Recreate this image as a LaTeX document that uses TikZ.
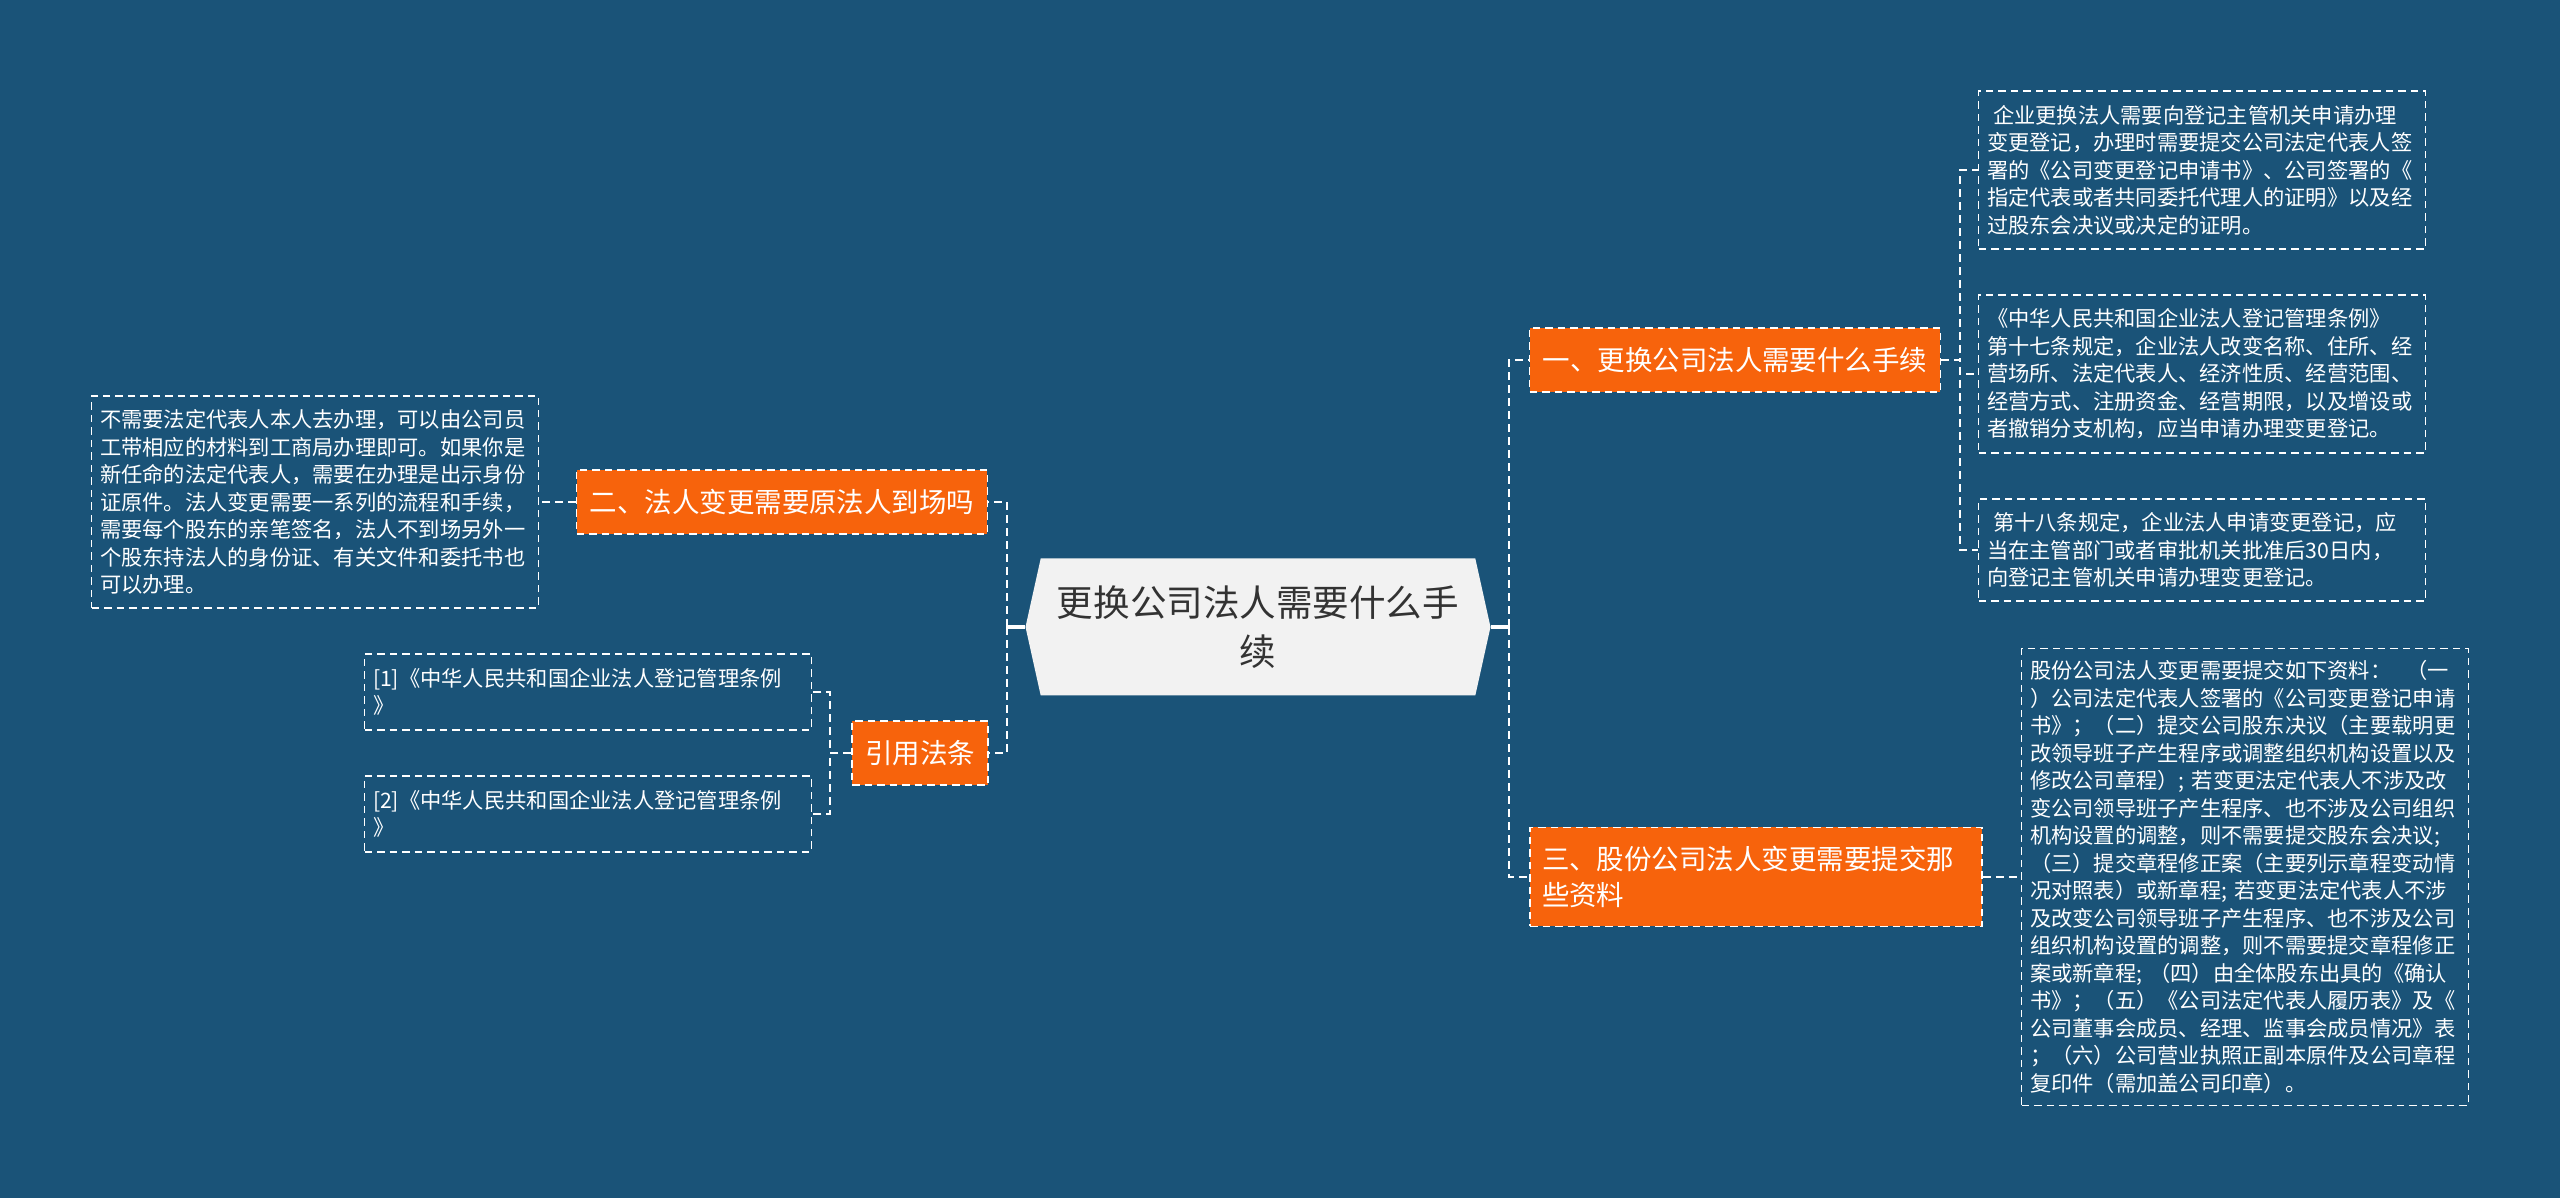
\documentclass[tikz,border=0pt]{standalone}
\usepackage{fontspec}
\setmainfont{Noto Sans CJK SC}
\definecolor{bgBlue}{HTML}{1A5378}
\definecolor{branchOrange}{HTML}{F7630C}
\definecolor{rootGray}{HTML}{F2F2F2}
\definecolor{rootText}{HTML}{333333}
\usetikzlibrary{shapes.symbols}

\begin{document}
\begin{tikzpicture}[
    x=0.1mm, y=-0.1mm,
    root/.style={signal, signal to=west and east, signal pointer angle=155, fill=rootGray, text=rootText, align=center, inner sep=0pt, minimum width=46.5mm, minimum height=13.7mm, font=\fontsize{10.4pt}{13.9pt}\selectfont},
    branch/.style={rectangle, fill=branchOrange, draw=white, line width=0.45pt, dash pattern=on 0.75mm off 0.5mm, text=white, align=left, inner xsep=1.3mm, minimum height=6.4mm, font=\fontsize{7.82pt}{10.5pt}\selectfont},
    leaf/.style={rectangle, draw=white, line width=0.45pt, dash pattern=on 0.75mm off 0.5mm, text=white, align=left, text width=43mm, inner xsep=0.85mm, font=\fontsize{6.05pt}{7.82pt}\selectfont},
    link/.style={draw=white, line width=0.6pt, dash pattern=on 0.8mm off 0.5mm},
    rootlink/.style={draw=white, line width=1pt}
]
% Background
\fill[bgBlue] (0,0) rectangle (2560,1198);
\useasboundingbox (0,0) rectangle (2560,1198);

% Root
\node[root] (root) at (1258,627) {更换公司法人需要什么手\\续};

% Branches
\node[branch] (b1) at (1735,360) {一、更换公司法人需要什么手续};
\node[branch, text width=42.8mm, inner xsep=1.2mm, minimum height=9.9mm] (b3) at (1756,877) {三、股份公司法人变更需要提交那\\些资料};
\node[branch] (b2) at (782,502) {二、法人变更需要原法人到场吗};
\node[branch] (cite) at (920,753) {引用法条};

% Right leaves
\node[leaf, minimum height=15.8mm] (la) at (2202,170) {\hspace*{0.6mm}企业更换法人需要向登记主管机关申请办理\\变更登记，办理时需要提交公司法定代表人签\\署的《公司变更登记申请书》、公司签署的《\\指定代表或者共同委托代理人的证明》以及经\\过股东会决议或决定的证明。};
\node[leaf, minimum height=15.8mm] (lb) at (2202,374) {《中华人民共和国企业法人登记管理条例》\\第十七条规定，企业法人改变名称、住所、经\\营场所、法定代表人、经济性质、经营范围、\\经营方式、注册资金、经营期限，以及增设或\\者撤销分支机构，应当申请办理变更登记。};
\node[leaf, minimum height=10.2mm] (lc) at (2202,550) {\hspace*{0.6mm}第十八条规定，企业法人申请变更登记，应\\当在主管部门或者审批机关批准后30日内，\\向登记主管机关申请办理变更登记。};
\node[leaf, minimum height=45.7mm] (ld) at (2245,877) {股份公司法人变更需要提交如下资料：\hspace*{1.5mm}（一\\）公司法定代表人签署的《公司变更登记申请\\书》；（二）提交公司股东决议（主要载明更\\改领导班子产生程序或调整组织机构设置以及\\修改公司章程）; 若变更法定代表人不涉及改\\变公司领导班子产生程序、也不涉及公司组织\\机构设置的调整，则不需要提交股东会决议;\\（三）提交章程修正案（主要列示章程变动情\\况对照表）或新章程; 若变更法定代表人不涉\\及改变公司领导班子产生程序、也不涉及公司\\组织机构设置的调整，则不需要提交章程修正\\案或新章程; （四）由全体股东出具的《确认\\书》；（五）《公司法定代表人履历表》及《\\公司董事会成员、经理、监事会成员情况》表\\；（六）公司营业执照正副本原件及公司章程\\复印件（需加盖公司印章）。};

% Left leaves
\node[leaf, minimum height=21.2mm] (le) at (315,502) {不需要法定代表人本人去办理，可以由公司员\\工带相应的材料到工商局办理即可。如果你是\\新任命的法定代表人，需要在办理是出示身份\\证原件。法人变更需要一系列的流程和手续，\\需要每个股东的亲笔签名，法人不到场另外一\\个股东持法人的身份证、有关文件和委托书也\\可以办理。};
\node[leaf, minimum height=7.6mm] (r1) at (588,692) {[1]《中华人民共和国企业法人登记管理条例\\》};
\node[leaf, minimum height=7.6mm] (r2) at (588,814) {[2]《中华人民共和国企业法人登记管理条例\\》};

% Connectors
\draw[rootlink] (root.east) -- ++(18,0) coordinate (rt);
\draw[link] (rt) |- (b1.west);
\draw[link] (rt) |- (b3.west);
\draw[rootlink] (root.west) -- ++(-18,0) coordinate (lt);
\draw[link] (lt) |- (b2.east);
\draw[link] (lt) |- (cite.east);
\draw[link] (b1.east) -- ++(19,0) |- (la.west);
\draw[link] (b1.east) -- ++(19,0) |- (lb.west);
\draw[link] (b1.east) -- ++(19,0) |- (lc.west);
\draw[link] (b3.east) -- (ld.west);
\draw[link] (b2.west) -- (le.east);
\draw[link] (cite.west) -- ++(-21,0) |- (r1.east);
\draw[link] (cite.west) -- ++(-21,0) |- (r2.east);
\end{tikzpicture}
\end{document}
